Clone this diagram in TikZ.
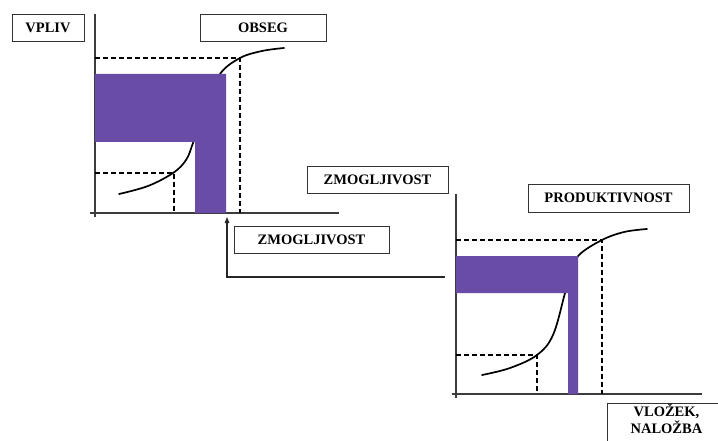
\documentclass[tikz,border=0pt]{standalone}
\usepackage{fontspec}
\setmainfont{Liberation Serif}
\usetikzlibrary{arrows.meta}
\definecolor{band}{RGB}{104,76,166}
\definecolor{axis}{RGB}{60,60,60}
\tikzset{
  label box/.style={draw=black!80, line width=0.9pt, fill=white, inner sep=0pt,
    font=\fontsize{14.5}{16}\selectfont\bfseries, align=center},
  axis line/.style={draw=axis, line width=1.2pt},
  guide/.style={draw=black, line width=1.1pt, dash pattern=on 5pt off 3pt},
  curve/.style={draw=black, line width=1.7pt, line cap=round},
  area/.style={fill=band, draw=none},
  feed/.style={draw=black!85, line width=1.1pt}
}
\begin{document}
\begin{tikzpicture}[x=1pt,y=-1pt]
\clip (0,0) rectangle (718,441);
\fill[white] (0,0) rectangle (718,441);

% ---- upper chart ----
\draw[axis line] (95,14) -- (95,217);
\draw[axis line] (90,213) -- (339,213);
\draw[guide] (95,58) -- (240,58) -- (240,213);
\draw[guide] (95,173) -- (174,173) -- (174,213);
\draw[curve] plot[smooth, tension=0.6] coordinates
  {(119,194) (148,186) (173,173) (186,160) (193,143) (206,105) (220,74) (240,58) (262,51) (284,48)};
\fill[area] (95,74) -- (226,74) -- (226,213) -- (195,213) -- (195,142) -- (95,142) -- cycle;

\node[label box, minimum width=72pt, minimum height=27pt] (vpliv) at (48,27.5) {VPLIV};
\node[label box, minimum width=126pt, minimum height=27pt] (obseg) at (263,27.5) {OBSEG};

% ---- labels between the charts ----
\node[label box, minimum width=141pt, minimum height=27pt] (zmog1) at (377.5,179.5) {ZMOGLJIVOST};
\node[label box, minimum width=155pt, minimum height=27pt] (zmog2) at (311.5,239.5) {ZMOGLJIVOST};

% feedback line into the upper chart
\coordinate (fbend) at (445,277);
\coordinate (fbcorner) at (227,277);
\coordinate (fbtip) at (227,217);
\draw[feed, -{Triangle[length=6pt,width=4.5pt]}] (fbend) -- (fbcorner) -- (fbtip);

% ---- lower chart ----
\draw[axis line] (456,194) -- (456,398);
\draw[axis line] (452,394) -- (702,394);
\draw[guide] (456,240) -- (602,240) -- (602,394);
\draw[guide] (456,355) -- (537,355) -- (537,394);
\draw[curve] plot[smooth, tension=0.6] coordinates
  {(482,375) (510,368) (537,355) (553,335) (565,293) (571,272) (579,255) (602,240) (624,232) (647,229)};
\fill[area] (456,256) -- (578,256) -- (578,394) -- (568,394) -- (568,293) -- (456,293) -- cycle;

\node[label box, minimum width=161pt, minimum height=28pt] (prod) at (608.5,198) {PRODUKTIVNOST};
\node[label box, minimum width=118pt, minimum height=44pt, anchor=north west] (vlozek) at (607,403)
  {\raisebox{0pt}[\height][\dimexpr\depth+9pt\relax]{\begin{tabular}{@{}c@{}}VLOŽEK,\\NALOŽBA\end{tabular}}};
\end{tikzpicture}
\end{document}
